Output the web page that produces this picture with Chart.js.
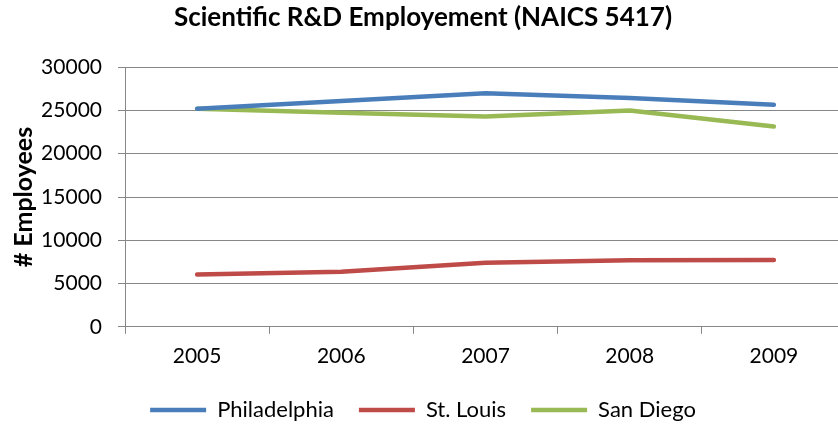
<!DOCTYPE html>
<html>
<head>
<meta charset="utf-8">
<script src="https://cdn.jsdelivr.net/npm/chart.js@4/dist/chart.umd.min.js"></script>
<style>
  html, body { margin: 0; padding: 0; background: #ffffff; }
  #wrap { position: relative; width: 838px; height: 428px; overflow: hidden; }
  #box { position: absolute; left: 0; top: 0; width: 846px; height: 431px; }
</style>
</head>
<body>
<div id="wrap"><div id="box"><canvas id="chart"></canvas></div></div>
<script>
// Employment in scientific research & development services, by metro area
const years = ['2005', '2006', '2007', '2008', '2009'];
const philadelphia = [25200, 26100, 27000, 26450, 25650];
const stLouis = [6050, 6350, 7400, 7700, 7730];
const sanDiego = [25200, 24750, 24300, 25000, 23150];
const yTicks = [0, 5000, 10000, 15000, 20000, 25000, 30000];

const FONT = 'Lato, "Open Sans", sans-serif';
const GRID = '#878787';

function series(label, data, color) {
  return {
    label, data,
    borderColor: color,
    backgroundColor: color,
    borderWidth: 4.5,
    borderCapStyle: 'round',
    borderJoinStyle: 'round',
    pointRadius: 0,
    pointHoverRadius: 0,
    tension: 0,
    fill: false
  };
}

new Chart(document.getElementById('chart'), {
  type: 'line',
  data: {
    labels: years,
    datasets: [
      series('Philadelphia', philadelphia, '#4a7ebb'),
      series('St. Louis', stLouis, '#be4b48'),
      series('San Diego', sanDiego, '#98b954')
    ]
  },
  options: {
    responsive: true,
    maintainAspectRatio: false,
    animation: false,
    layout: { padding: { top: 2, right: 0, bottom: 0, left: 0 } },
    plugins: {
      title: {
        display: true,
        text: 'Scientific R&D Employement (NAICS 5417)',
        color: '#000000',
        font: { family: FONT, size: 26, weight: 'bold' },
        padding: { top: 0, bottom: 34 }
      },
      legend: {
        position: 'bottom',
        labels: {
          color: '#000000',
          font: { family: FONT, size: 22 },
          usePointStyle: true,
          pointStyle: 'line',
          pointStyleWidth: 56,
          padding: 25
        }
      },
      tooltip: { enabled: false }
    },
    scales: {
      x: {
        offset: true,
        afterFit: (axis) => { axis.height -= 5; },
        grid: {
          offset: true,
          drawOnChartArea: false,
          drawTicks: true,
          tickLength: 7,
          color: GRID
        },
        border: { color: GRID, width: 1 },
        ticks: {
          color: '#000000',
          font: { family: FONT, size: 21 },
          padding: 10
        }
      },
      y: {
        min: 0,
        max: 30000,
        afterBuildTicks: (axis) => { axis.ticks = yTicks.map(v => ({ value: v })); },
        afterFit: (axis) => { axis.width = 125; },
        grid: { color: GRID, tickLength: 7, drawTicks: true },
        border: { color: GRID, width: 1 },
        ticks: {
          color: '#000000',
          font: { family: FONT, size: 21 },
          padding: 16,
          callback: (v) => String(v)
        },
        title: {
          display: true,
          text: '# Employees',
          color: '#000000',
          font: { family: FONT, size: 25, weight: 'bold' },
          padding: { top: 9, bottom: 0 }
        }
      }
    }
  }
});
</script>
</body>
</html>
